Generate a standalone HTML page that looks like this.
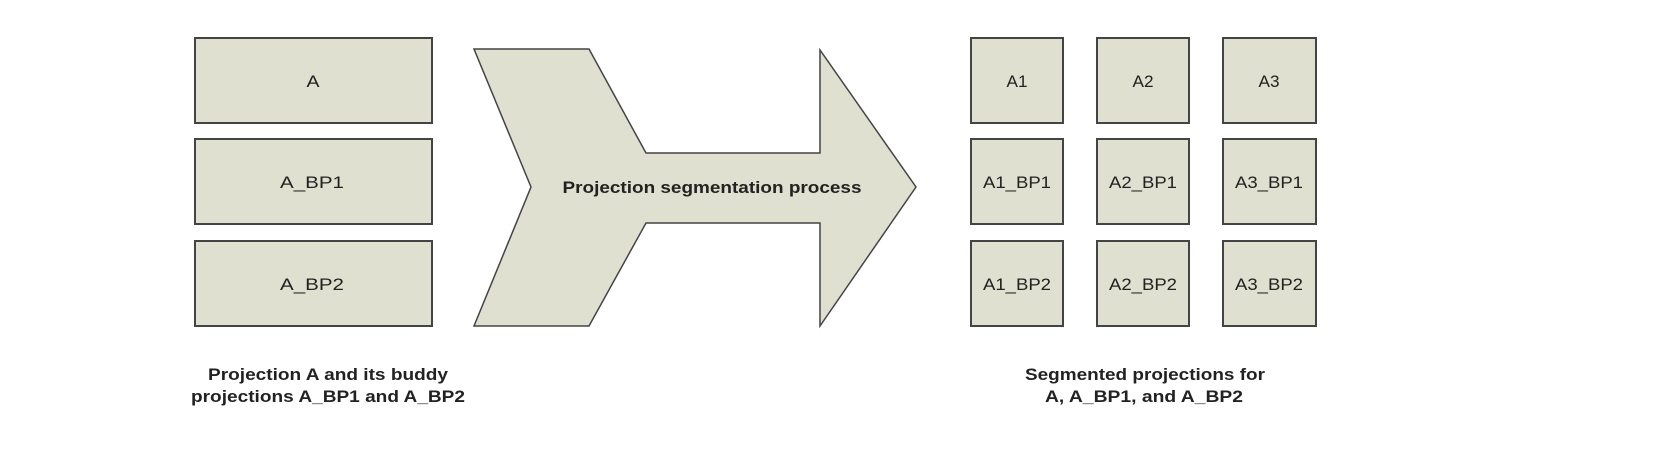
<!DOCTYPE html>
<html><head><meta charset="utf-8"><style>
html,body{margin:0;padding:0;background:#fff;}
body{width:1654px;height:448px;overflow:hidden;}
</style></head><body>
<svg width="1654" height="448" viewBox="0 0 1654 448" xmlns="http://www.w3.org/2000/svg" font-family="Liberation Sans, Arial, sans-serif">
<g fill="#dfe0cf" stroke="#444" stroke-width="2">
<rect x="195" y="38" width="237" height="85"/>
<rect x="195" y="139" width="237" height="85"/>
<rect x="195" y="241" width="237" height="85"/>
<polygon points="474,49 589,49 646,153 820,153 820,50 916,187 820,326 820,223 646,223 589,326 474,326 531,187" stroke-width="1.5"/>
<rect x="971" y="38" width="92" height="85"/>
<rect x="1097" y="38" width="92" height="85"/>
<rect x="1223" y="38" width="93" height="85"/>
<rect x="971" y="139" width="92" height="85"/>
<rect x="1097" y="139" width="92" height="85"/>
<rect x="1223" y="139" width="93" height="85"/>
<rect x="971" y="241" width="92" height="85"/>
<rect x="1097" y="241" width="92" height="85"/>
<rect x="1223" y="241" width="93" height="85"/>
</g>
<g fill="#222" font-size="17" text-anchor="middle">
<text x="313" y="87" textLength="13" lengthAdjust="spacingAndGlyphs">A</text>
<text x="312" y="188" textLength="64" lengthAdjust="spacingAndGlyphs">A_BP1</text>
<text x="312" y="290" textLength="64" lengthAdjust="spacingAndGlyphs">A_BP2</text>
<text x="1017" y="87" textLength="21" lengthAdjust="spacingAndGlyphs">A1</text>
<text x="1143" y="87" textLength="21" lengthAdjust="spacingAndGlyphs">A2</text>
<text x="1269" y="87" textLength="21" lengthAdjust="spacingAndGlyphs">A3</text>
<text x="1017" y="188" textLength="68" lengthAdjust="spacingAndGlyphs">A1_BP1</text>
<text x="1143" y="188" textLength="68" lengthAdjust="spacingAndGlyphs">A2_BP1</text>
<text x="1269" y="188" textLength="68" lengthAdjust="spacingAndGlyphs">A3_BP1</text>
<text x="1017" y="290" textLength="68" lengthAdjust="spacingAndGlyphs">A1_BP2</text>
<text x="1143" y="290" textLength="68" lengthAdjust="spacingAndGlyphs">A2_BP2</text>
<text x="1269" y="290" textLength="68" lengthAdjust="spacingAndGlyphs">A3_BP2</text>
</g>
<g fill="#222" font-size="17" font-weight="bold" text-anchor="middle">
<text x="712" y="193" textLength="299" lengthAdjust="spacingAndGlyphs">Projection segmentation process</text>
<text x="328" y="380" textLength="240" lengthAdjust="spacingAndGlyphs">Projection A and its buddy</text>
<text x="328" y="402" textLength="274" lengthAdjust="spacingAndGlyphs">projections A_BP1 and A_BP2</text>
<text x="1145" y="380" textLength="240" lengthAdjust="spacingAndGlyphs">Segmented projections for</text>
<text x="1144" y="402" textLength="198" lengthAdjust="spacingAndGlyphs">A, A_BP1, and A_BP2</text>
</g>
</svg>
</body></html>
